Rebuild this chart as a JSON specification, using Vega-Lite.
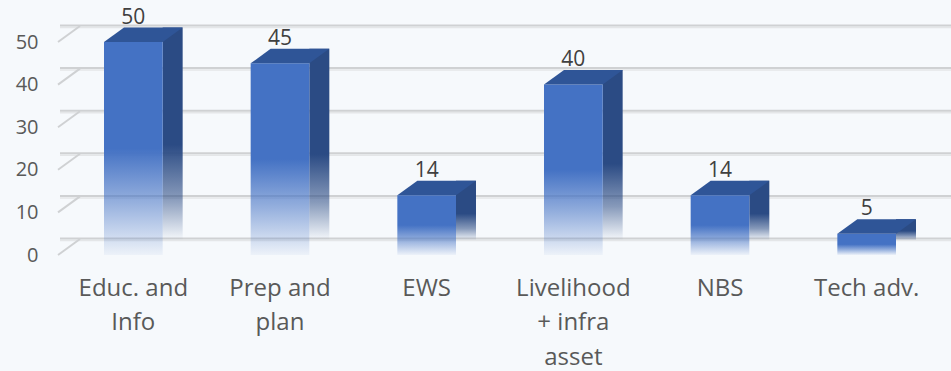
{
  "$schema": "https://vega.github.io/schema/vega-lite/v6.json",
  "autosize": "none",
  "width": 880,
  "height": 213,
  "padding": {"left": 60, "top": 42, "right": 11, "bottom": 116},
  "background": "#f6f9fc",
  "config": {"view": {"stroke": null}, "font": "Open Sans"},
  "datasets": {
    "bars": [
      {"cat": "Educ. and\nInfo", "v": 50},
      {"cat": "Prep and\nplan", "v": 45},
      {"cat": "EWS", "v": 14},
      {"cat": "Livelihood\n+ infra\nasset", "v": 40},
      {"cat": "NBS", "v": 14},
      {"cat": "Tech adv.", "v": 5}
    ],
    "grid": [{"t": 0}, {"t": 10}, {"t": 20}, {"t": 30}, {"t": 40}, {"t": 50}]
  },
  "encoding": {
    "x": {
      "field": "cat", "type": "nominal", "sort": null,
      "scale": {"paddingInner": 0, "paddingOuter": 0},
      "axis": {
        "title": null, "labelAngle": 0, "domain": false, "ticks": false, "grid": false,
        "labelFontSize": 24, "labelColor": "#595959", "labelLineHeight": 34.5,
        "labelPadding": 21, "labelExpr": "split(datum.label, '\\n')"
      }
    },
    "y": {
      "field": "v", "type": "quantitative",
      "scale": {"domain": [0, 50], "nice": false},
      "axis": {
        "title": null, "domain": false, "ticks": false, "grid": false,
        "values": [0, 10, 20, 30, 40, 50], "labelFontSize": 20,
        "labelColor": "#595959", "labelPadding": 22
      }
    }
  },
  "layer": [
    {
      "data": {"name": "grid"},
      "mark": {"type": "rule", "color": "#e4e6e8", "strokeWidth": 1.5, "xOffset": 22, "x2Offset": 22, "yOffset": -14.5},
      "encoding": {"x": null, "y": {"field": "t", "type": "quantitative"}}
    },
    {
      "data": {"name": "grid"},
      "mark": {"type": "rule", "color": "#cfd1d3", "strokeWidth": 2, "xOffset": 22, "x2Offset": 22, "yOffset": -16.5},
      "encoding": {"x": null, "y": {"field": "t", "type": "quantitative"}}
    },
    {
      "data": {"name": "grid"},
      "mark": {
        "type": "point", "filled": false, "opacity": 1, "size": 400, "stroke": "#cfd1d3", "strokeWidth": 2,
        "shape": "M-1.1,0.8L1.1,-0.8", "xOffset": 9, "yOffset": -8
      },
      "encoding": {
        "x": {"datum": "Educ. and\nInfo", "type": "nominal", "bandPosition": 0},
        "y": {"field": "t", "type": "quantitative"}
      }
    },
    {
      "data": {"name": "bars"},
      "mark": {
        "type": "bar", "width": 20, "xOffset": 39.33, "yOffset": -14.5, "y2Offset": -10,
        "fill": {
          "x1": 0, "y1": 0, "x2": 0, "y2": 1, "gradient": "linear",
          "stops": [
            {"offset": 0, "color": "#2b4b84"},
            {"offset": 0.55, "color": "#2b4b84"},
            {"offset": 0.8, "color": "rgba(43,75,132,0.55)"},
            {"offset": 1, "color": "rgba(43,75,132,0)"}
          ]
        }
      }
    },
    {
      "data": {"name": "bars"},
      "mark": {
        "type": "bar", "width": {"band": 0.4},
        "fill": {
          "x1": 0, "y1": 0, "x2": 0, "y2": 1, "gradient": "linear",
          "stops": [
            {"offset": 0, "color": "#4472c4"},
            {"offset": 0.5, "color": "#4472c4"},
            {"offset": 0.75, "color": "rgba(68,114,196,0.55)"},
            {"offset": 1, "color": "rgba(68,114,196,0.05)"}
          ]
        }
      }
    },
    {
      "data": {"name": "bars"},
      "mark": {
        "type": "point", "filled": true, "opacity": 1, "size": 400, "color": "#2f5597",
        "shape": "M-2.933,0L2.933,0L4.933,-1.45L-0.933,-1.45Z"
      }
    },
    {
      "data": {"name": "bars"},
      "mark": {"type": "text", "baseline": "alphabetic", "dy": -18.5, "fontSize": 21, "color": "#404040"},
      "encoding": {"text": {"field": "v", "type": "quantitative"}}
    }
  ]
}
